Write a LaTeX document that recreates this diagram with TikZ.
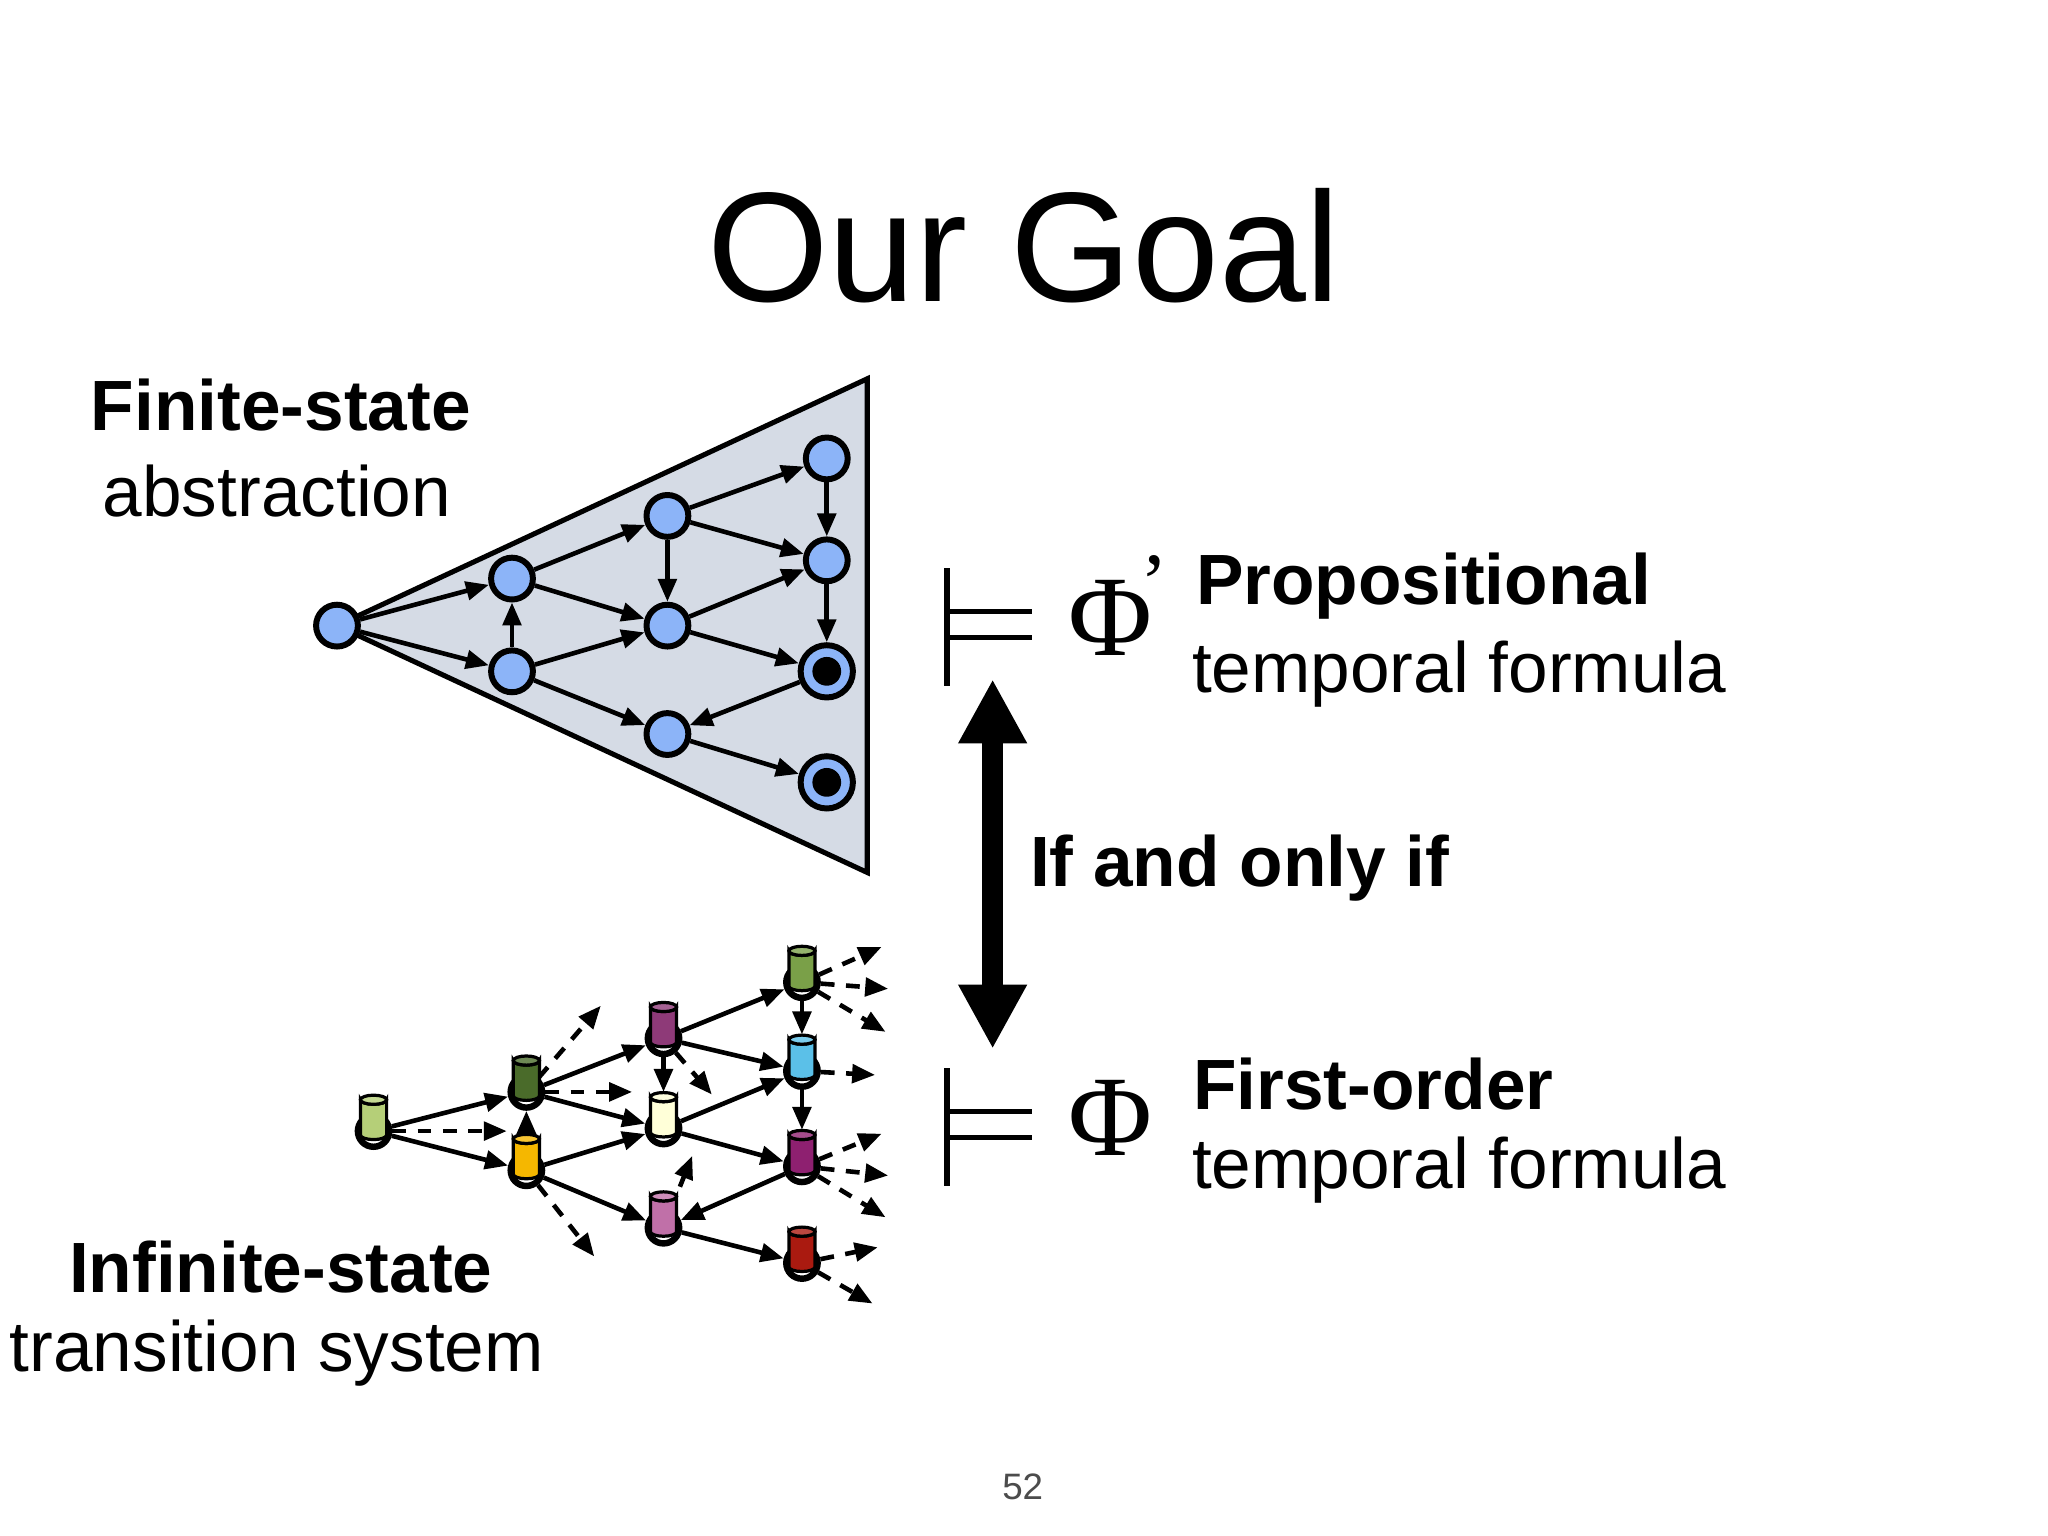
\documentclass[tikz,border=0pt]{standalone}
\usepackage{fontspec}
\setmainfont{Liberation Sans}
\newfontfamily\serf{Liberation Serif}
\usetikzlibrary{arrows.meta,shapes.geometric}
\begin{document}
\begin{tikzpicture}[x=0.01cm,y=-0.01cm,
  st/.style={circle,draw=black,line width=1.3pt,fill=nb,minimum size=0.32cm,inner sep=0pt},
  acc/.style={circle,draw=black,line width=1.3pt,fill=nb,minimum size=0.40cm,inner sep=0pt},
  bs/.style={circle,draw=black,line width=1.4pt,fill=white,minimum size=0.24cm,inner sep=0pt},
  cyl/.style={draw=black,line width=0.7pt},
  ed/.style={line width=1pt,-{Triangle[length=5pt,width=4pt]}},
  de/.style={ed,dashed,dash pattern=on 3pt off 2.5pt},
  lab/.style={font=\fontsize{15.5}{19}\selectfont,inner sep=0pt}]
\definecolor{nb}{HTML}{8CB4F8}
\definecolor{tri}{HTML}{D5DBE5}
\useasboundingbox (0,0) rectangle (1568,1176);
\fill[white] (0,0) rectangle (1568,1176);
\node[inner sep=0pt,font=\fontsize{34}{40}\selectfont] (title) at (784,188) {Our Goal};
% triangle
\draw[fill=tri,line width=1.1pt] (258,479) -- (664,290) -- (664,668) -- cycle;
\node[st] (a0) at (258,479) {};
\node[st] (b1) at (392,443) {};
\node[st] (b2) at (392,514) {};
\node[st] (c1) at (511,395) {};
\node[st] (c2) at (511,479) {};
\node[st] (c3) at (511,562) {};
\node[st] (d1) at (633,351) {};
\node[st] (d2) at (633,429) {};
\node[acc] (d3) at (633,514) {};
\node[acc] (d4) at (633,599) {};
\fill (d3) circle (0.11cm);
\fill (d4) circle (0.11cm);
\foreach \s/\t in {a0/b1,a0/b2,b2/b1,b1/c1,b1/c2,b2/c2,b2/c3,c1/c2,c1/d1,c1/d2,c2/d2,c2/d3,d1/d2,d2/d3,d3/c3,c3/d4}
  \draw[ed] (\s) -- (\t);
% bottom graph
\foreach \n/\x/\y in {n0/286/866,m1/403/836,m2/403/896,p1/508/795,p2/508/864,p3/508/940,q1/614/752,q2/614/820,q3/614/893,q4/614/967}
  \node[bs] (\n) at (\x,\y) {};
\foreach \s/\t in {n0/m1,n0/m2,m1/p1,m1/p2,m2/p2,m2/p3,p1/q1,p1/q2,p2/q2,p2/q3,q3/p3,p3/q4}
  \draw[ed] (\s) -- (\t);
\foreach \s/\x/\y [count=\i] in {n0/388/866,m1/460/770,m1/484/836,m2/455/962,p1/545/838,p3/530/885,q1/675/725,q1/680/757,q1/678/790,q2/670/823,q3/675/868,q3/680/900,q3/678/932,q4/672/955,q4/668/998}{
  \coordinate (e\i) at (\x,\y);
  \draw[de] (\s) -- (e\i);
}
\foreach \n/\c in {n0/B5CF78,m1/4A6B2A,m2/F5B700,p1/8E3A78,p2/FFFFD8,p3/C070A8,q1/7AA048,q2/5BC0E8,q3/8E2070,q4/AA1A10}{
  \definecolor{cc}{HTML}{\c}
  \draw[cyl,fill=cc] ([shift={(-10,3)}]\n.center) -- ++(0,-27) arc[start angle=180,end angle=360,x radius=10,y radius=-3.5] -- ++(0,27) arc[start angle=0,end angle=-180,x radius=10,y radius=-3.5] -- cycle;
  \draw[cyl,fill=cc!80!white] ([shift={(0,-24)}]\n.center) ellipse[x radius=10,y radius=3.5];
  \coordinate (\n c) at ([shift={(0,-28)}]\n.center);
}
\draw[ed] ([yshift=0.06cm]m2.center) ++(0,-33) -- (m1);
\draw[ed] (p1) -- (p2c);
\draw[ed] (q1) -- (q2c);
\draw[ed] (q2) -- (q3c);
% texts left
\node[lab,font=\fontsize{15.5}{19}\selectfont\bfseries] (fs) at (215,310) {Finite-state};
\node[lab] (ab) at (212,376) {abstraction};
\node[lab,font=\fontsize{15.5}{19}\selectfont\bfseries] (is) at (215,970) {Infinite-state};
\node[lab] (ts) at (212,1036) {transition system};
% models symbols
\draw[line width=1.2pt] (725,435) -- (725,525) (727,468) -- (790,468) (727,488) -- (790,488);
\draw[line width=1.2pt] (725,818) -- (725,908) (727,851) -- (790,851) (727,871) -- (790,871);
\node[inner sep=0pt,font=\serf\fontsize{25}{30}\selectfont] (phi1) at (850,473) {Φ};
\node[inner sep=0pt,font=\serf\fontsize{18}{22}\selectfont] (pr) at (884,446) {’};
\node[inner sep=0pt,font=\serf\fontsize{25}{30}\selectfont] (phi2) at (850,856) {Φ};
\node[lab,anchor=west,font=\fontsize{15.5}{19}\selectfont\bfseries] (pp) at (915,449) {Propositional};
\node[lab,anchor=west] (t1) at (912,516) {temporal formula};
\node[lab,anchor=west,font=\fontsize{15.5}{19}\selectfont\bfseries] (fo) at (913,830) {First-order};
\node[lab,anchor=west] (t2) at (912,896) {temporal formula};
\coordinate (ua) at (760,520);
\coordinate (da) at (760,803);
\draw[line width=4.5pt,{Triangle[length=14pt,width=14pt]}-{Triangle[length=14pt,width=14pt]}] (ua) -- (da);
\node[lab,anchor=west,font=\fontsize{15.5}{19}\selectfont\bfseries] (iff) at (788,665) {If and only if};
\node[inner sep=0pt,font=\fontsize{8}{10}\selectfont,text=black!70] (pg) at (783,1138) {52};
\end{tikzpicture}
\end{document}
